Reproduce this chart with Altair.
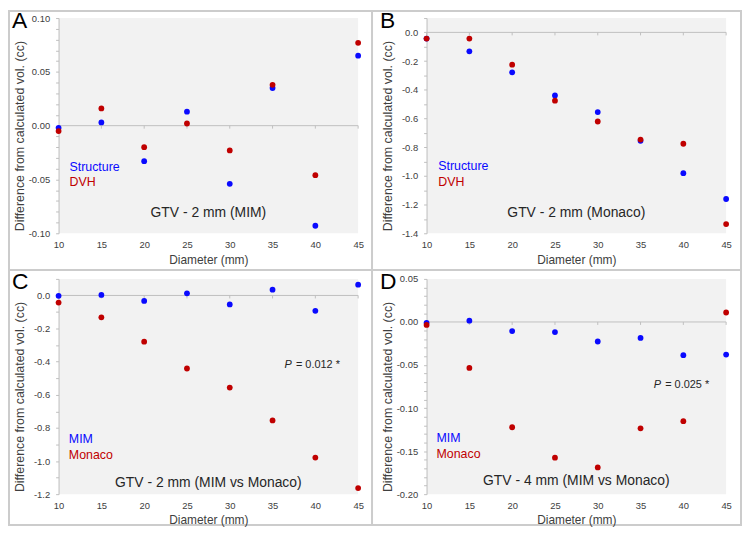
import altair as alt
import pandas as pd

# ---------------- data ----------------
diameters = [10, 15, 20, 25, 30, 35, 40, 45]

a_structure = [-0.002, 0.003, -0.033, 0.013, -0.054, 0.035, -0.093, 0.065]
a_dvh = [-0.005, 0.016, -0.020, 0.002, -0.023, 0.038, -0.046, 0.077]

b_structure = [-0.043, -0.132, -0.278, -0.439, -0.555, -0.756, -0.981, -1.161]
b_dvh = [-0.043, -0.043, -0.225, -0.476, -0.621, -0.747, -0.776, -1.336]

c_mim = [-0.002, 0.003, -0.033, 0.013, -0.054, 0.035, -0.093, 0.065]
c_monaco = [-0.043, -0.132, -0.279, -0.441, -0.556, -0.755, -0.979, -1.163]

d_mim = [-0.001, 0.0015, -0.0106, -0.0117, -0.0227, -0.0186, -0.0386, -0.0379]
d_monaco = [-0.0034, -0.0534, -0.1223, -0.1576, -0.169, -0.1235, -0.1152, 0.011]

letters = ["A", "B", "C", "D"]
series_names = [["Structure", "DVH"], ["Structure", "DVH"], ["MIM", "Monaco"], ["MIM", "Monaco"]]
panel_titles = ["GTV - 2 mm (MIM)", "GTV - 2 mm (Monaco)",
                "GTV - 2 mm (MIM vs Monaco)", "GTV - 4 mm (MIM vs Monaco)"]
y_domains = [[-0.10, 0.10], [-1.4, 0.1], [-1.2, 0.1], [-0.20, 0.05]]
y_major_steps = [0.05, 0.2, 0.2, 0.05]
y_minor_steps = [0.01, 0.1, 0.1, 0.01]
y_decimals = [2, 1, 1, 2]

# annotation anchors in data space
title_pos = [[27.5, -0.081], [27.5, -1.257], [27.5, -1.131], [27.5, -0.185]]
legend_pos = [[11.27, -0.0383, -0.0526], [11.36, -0.933, -1.040],
              [11.2, -0.870, -0.963], [11.16, -0.135, -0.153]]
p_values = [None, None, "= 0.012 *", "= 0.025 *"]
p_pos = [None, None, [36.4, -0.423], [36.55, -0.0735]]

# ---------------- style ----------------
BLUE = "#0a0aff"
RED = "#c00000"
AXIS_COLOR = "#bfbfbf"
LABEL_COLOR = "#404040"
FRAME_COLOR = "#cccccc"
BG = "#f2f2f2"
FONT = "Liberation Sans"
W, H = 302, 217


def tick_values(lo, hi, step):
    n = int(round((hi - lo) / step))
    return [round(lo + i * step, 4) + 0.0 for i in range(n + 1)]


def make_panel(i, s1, s2, frame=False):
    xs = alt.Scale(domain=[10, 45], nice=False, zero=False)
    ys = alt.Scale(domain=y_domains[i], nice=False, zero=False)
    major = y_major_steps[i]
    dec = y_decimals[i]
    label_expr = (f"abs(datum.value/{major} - round(datum.value/{major})) < 0.001 ? "
                  f"replace(format(datum.value, '.{dec}f'), '\u2212', '-') : ''")
    xaxis = alt.Axis(values=diameters, title="Diameter (mm)", ticks=False, tickSize=0,
                     domain=False, grid=False, labelPadding=6, labelFontSize=9.5,
                     labelColor=LABEL_COLOR, labelFlush=False, titleFontSize=12,
                     titleFontWeight="normal", titleColor=LABEL_COLOR, titleY=26,
                     titleBaseline="middle")
    yaxis = alt.Axis(values=tick_values(y_domains[i][0], y_domains[i][1], y_minor_steps[i]),
                     labelExpr=label_expr, title="Difference from calculated vol. (cc)",
                     tickSize=3, tickColor=AXIS_COLOR, domainColor=AXIS_COLOR, grid=False,
                     labelPadding=6, labelFontSize=9.5, labelColor=LABEL_COLOR,
                     labelOverlap=False, labelBound=False,
                     titleFontSize=12.5, titleFontWeight="normal", titleColor=LABEL_COLOR,
                     titleX=-39, titleY=H / 2 + 10, titleAngle=270, titleAlign="center",
                     titleBaseline="middle")
    X = alt.X("d:Q", scale=xs, axis=xaxis)
    Y = alt.Y("v:Q", scale=ys, axis=yaxis)

    df1 = pd.DataFrame({"d": diameters, "v": s1})
    df2 = pd.DataFrame({"d": diameters, "v": s2})
    zero = pd.DataFrame({"v": [0.0]})
    zero_ticks = pd.DataFrame({"d": diameters, "v": [0.0] * len(diameters)})

    layers = []
    layers.append(alt.Chart(zero).mark_rule(color=AXIS_COLOR, strokeWidth=1).encode(y=Y))
    layers.append(alt.Chart(zero_ticks).mark_rule(color=AXIS_COLOR, strokeWidth=1, y2Offset=3)
                  .encode(x=X, y=Y, y2=alt.Y2("v:Q")))
    layers.append(alt.Chart(df1).mark_circle(size=34, opacity=1, color=BLUE).encode(x=X, y=Y))
    layers.append(alt.Chart(df2).mark_circle(size=34, opacity=1, color=RED).encode(x=X, y=Y))

    lx, ly1, ly2 = legend_pos[i]
    leg1 = pd.DataFrame({"d": [lx], "v": [ly1], "t": [series_names[i][0]]})
    leg2 = pd.DataFrame({"d": [lx], "v": [ly2], "t": [series_names[i][1]]})
    layers.append(alt.Chart(leg1).mark_text(align="left", baseline="middle", fontSize=12.5,
                                            color=BLUE).encode(x=X, y=Y, text="t:N"))
    layers.append(alt.Chart(leg2).mark_text(align="left", baseline="middle", fontSize=12.5,
                                            color=RED).encode(x=X, y=Y, text="t:N"))

    tdf = pd.DataFrame({"d": [title_pos[i][0]], "v": [title_pos[i][1]], "t": [panel_titles[i]]})
    layers.append(alt.Chart(tdf).mark_text(align="center", baseline="middle", fontSize=14,
                                           color="#262626").encode(x=X, y=Y, text="t:N"))

    if p_values[i] is not None:
        pdf = pd.DataFrame({"d": [p_pos[i][0]], "v": [p_pos[i][1]], "t": ["P"], "u": [p_values[i]]})
        layers.append(alt.Chart(pdf).mark_text(align="left", baseline="middle", fontSize=11,
                                               fontStyle="italic", color="#262626")
                      .encode(x=X, y=Y, text="t:N"))
        layers.append(alt.Chart(pdf).mark_text(align="left", baseline="middle", fontSize=11,
                                               dx=11.5, color="#262626")
                      .encode(x=X, y=Y, text="u:N"))

    one = pd.DataFrame({"a": [0]})
    layers.append(alt.Chart(one).mark_text(text=letters[i], align="left", baseline="alphabetic",
                                           fontSize=23, color="black")
                  .encode(x=alt.value(-47), y=alt.value(10)))

    if frame:
        layers.append(alt.Chart(one).mark_rect(filled=False, color=FRAME_COLOR, strokeWidth=2)
                      .encode(x=alt.value(-50), x2=alt.value(688),
                              y=alt.value(-7), y2=alt.value(511)))
        layers.append(alt.Chart(one).mark_rule(color=FRAME_COLOR, strokeWidth=2)
                      .encode(x=alt.value(316), y=alt.value(-7), y2=alt.value(511)))
        layers.append(alt.Chart(one).mark_rule(color=FRAME_COLOR, strokeWidth=2)
                      .encode(x=alt.value(-50), x2=alt.value(688), y=alt.value(254)))

    return alt.layer(*layers).properties(width=W, height=H)


pa = make_panel(0, a_structure, a_dvh, frame=True)
pb = make_panel(1, b_structure, b_dvh)
pc = make_panel(2, c_mim, c_monaco)
pd_ = make_panel(3, d_mim, d_monaco)

chart = (
    alt.concat(pa, pb, pc, pd_, columns=2, spacing={"row": 46, "column": 69}, bounds="flush")
    .properties(padding=0, background="white")
    .configure_view(fill=BG, strokeWidth=0)
    .configure_axis(labelFont=FONT, titleFont=FONT)
    .configure_text(font=FONT)
)

chart.save("out.html", embed_options={"renderer": "svg", "actions": False})
